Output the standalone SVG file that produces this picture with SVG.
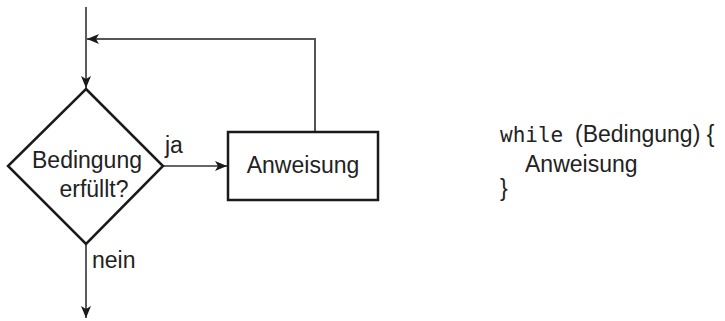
<svg xmlns="http://www.w3.org/2000/svg" width="725" height="321" viewBox="0 0 725 321">
<defs>
<style>
.t{font-family:"Liberation Sans",Arial,sans-serif;font-size:23px;fill:#222}
.m{font-family:"DejaVu Sans Mono",monospace;font-size:21px;fill:#222}
.shape{fill:#fff;stroke:#1a1a1a;stroke-width:2.5}
.c{fill:none;stroke:#333;stroke-width:1.6}
.fb{fill:none;stroke:#555;stroke-width:2}
</style>
<marker id="ah" viewBox="0 0 12 10" refX="12" refY="5" markerWidth="12" markerHeight="10" markerUnits="userSpaceOnUse" orient="auto">
<path d="M0,0 L12,5 L0,10 L3,5 Z" fill="#1a1a1a"/>
</marker>
</defs>
<g id="connectors">
<line class="c" x1="86" y1="7" x2="86" y2="88" marker-end="url(#ah)"/>
<polyline class="fb" points="315,132 315,39 87,39" marker-end="url(#ah)"/>
<line class="c" x1="163" y1="166" x2="227" y2="166" marker-end="url(#ah)"/>
<line class="c" x1="86" y1="244" x2="86" y2="318" marker-end="url(#ah)"/>
<text class="t" x="165" y="153">ja</text>
<text class="t" x="92" y="268">nein</text>
</g>
<g id="condition">
<polygon class="shape" points="86,89 163,166 86,244 8,166"/>
<text class="t" x="87" y="168" text-anchor="middle">Bedingung</text>
<text class="t" x="94" y="197" text-anchor="middle">erfüllt?</text>
</g>
<g id="statement">
<rect class="shape" x="228" y="132" width="150" height="68"/>
<text class="t" x="303" y="173" text-anchor="middle">Anweisung</text>
</g>
<g id="code">
<text x="500" y="142"><tspan class="m">while</tspan><tspan class="t" x="575">(Bedingung) {</tspan></text>
<text class="t" x="525" y="172">Anweisung</text>
<text class="t" x="500" y="196">}</text>
</g>
</svg>
